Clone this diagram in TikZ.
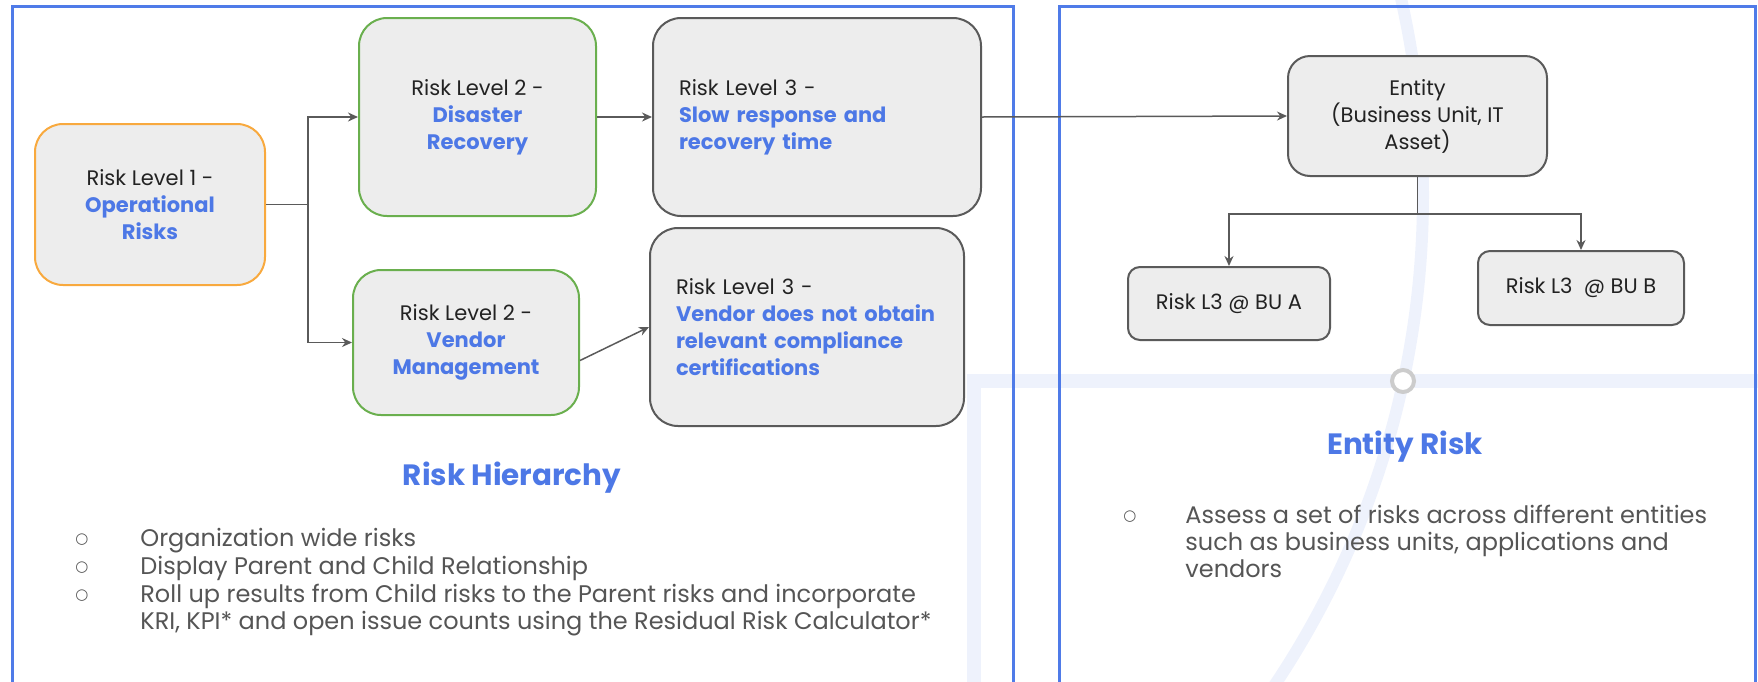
\documentclass[tikz,border=0pt]{standalone}
\usepackage{fontspec}
\setmainfont{Poppins}
\newfontfamily\symfont{DejaVu Sans}
\usetikzlibrary{arrows.meta,calc,positioning}
\definecolor{frameblue}{HTML}{4F7BE8}
\definecolor{riskblue}{HTML}{4D78E6}
\definecolor{lvlone}{HTML}{F8A93E}
\definecolor{lvltwo}{HTML}{6AAF4E}
\definecolor{edgegray}{HTML}{5A5A5A}
\definecolor{boxfill}{HTML}{EDEDED}
\definecolor{txtdark}{HTML}{222222}
\definecolor{bodygray}{HTML}{555555}
\definecolor{haze}{HTML}{EEF2FC}
\definecolor{ringgray}{HTML}{CCCCCC}
\newcommand{\hl}[1]{\textcolor{riskblue}{\bfseries #1}}

\begin{document}
\begin{tikzpicture}[x=.5pt,y=-.5pt,>={Stealth[length=5pt,width=4.5pt]},
 riskbox/.style={draw=edgegray,fill=boxfill,line width=1pt,rounded corners=14pt,inner sep=0pt,align=center,font=\fontsize{10.5}{13.5}\selectfont,text=txtdark},
 topbox/.style={riskbox,draw=lvlone},
 midbox/.style={riskbox,draw=lvltwo},
 leafbox/.style={riskbox,align=left,inner xsep=13pt},
 unitbox/.style={riskbox,rounded corners=6pt},
 link/.style={edgegray,line width=.75pt},
 heading/.style={text=riskblue,font=\fontsize{14.7}{16}\selectfont\bfseries},
 note/.style={text=bodygray,font=\fontsize{12}{14}\selectfont,anchor=base west,inner sep=0pt},
 bullet/.style={text=bodygray,font=\symfont\fontsize{7.5}{8}\selectfont,inner sep=0pt}]
 \clip(0,0)rectangle(1758,681);
 % faint backdrop
 \draw[haze,line width=7pt](973.5,700)--(973.5,381)--(1770,381);
 \draw[haze,line width=6pt](540,195)circle[radius=441.5pt];
 \draw[ringgray,line width=2pt,fill=white](1403,381)circle[radius=5.5pt];
 % panels
 \draw[frameblue,line width=1.5pt](12,700)--(12,6)--(1013,6)--(1013,700);
 \draw[frameblue,line width=1.5pt](1059,700)--(1059,6)--(1755,6)--(1755,700);
 % hierarchy
 \node[topbox,minimum width=115pt,minimum height=80.5pt](l1)at(150,204.5){Risk Level 1 -\\\hl{Operational}\\\hl{Risks}};
 \node[midbox,minimum width=118.5pt,minimum height=99pt](l2a)at(477.5,117){Risk Level 2 -\\\hl{Disaster}\\\hl{Recovery}};
 \node[midbox,minimum width=113pt,minimum height=72.5pt](l2b)at(466,342.5){Risk Level 2 -\\\hl{Vendor}\\\hl{Management}};
 \node[leafbox,text width=138pt,minimum height=99pt](l3a)at(817,117){Risk Level 3 -\\\hl{Slow response and}\\\hl{recovery time}};
 \node[leafbox,text width=131pt,minimum height=99pt](l3b)at(807,327){Risk Level 3 -\\\hl{Vendor does not obtain}\\\hl{relevant compliance}\\\hl{certifications}};
 \coordinate(fork)at(308,204.5);
 \draw[link](l1.east)--(fork);
 \draw[link,->](fork)|-(l2a.west);
 \draw[link,->](fork)|-(l2b.west);
 \draw[link,->](l2a.east)--(l3a.west);
 \draw[link,->]([yshift=-9pt]l2b.east)--(l3b.west);
 % entities
 \node[riskbox,rounded corners=11pt,minimum width=129.5pt,minimum height=60pt](ent)at(1417.5,116){Entity\\(Business Unit, IT\\Asset)};
 \node[unitbox,minimum width=101pt,minimum height=36.5pt](bua)at(1229,303.5){Risk L3 @ BU A};
 \node[unitbox,minimum width=103pt,minimum height=37pt](bub)at(1581,288){Risk L3 \ @ BU B};
 \draw[link,->](l3a.east)--(ent.west);
 \draw[link,->](ent.south)--++(0,37)-|(bua.north);
 \draw[link,->](ent.south)--++(0,37)-|(bub.north);
 % captions
 \node[heading](hier)at(512,478){Risk Hierarchy};
 \node[heading](entr)at(1405,447){Entity Risk};
 \node[bullet](b1)at(82,540){○};\node[note](n1)at(140,546.5){Organization wide risks};
 \node[bullet](b2)at(82,568){○};\node[note](n2)at(140,574.5){Display Parent and Child Relationship};
 \node[bullet](b3)at(82,596){○};\node[note](n3)at(140,602.5){Roll up results from Child risks to the Parent risks and incorporate};
 \node[note](n4)at(140,629.5){KRI, KPI* and open issue counts using the Residual Risk Calculator*};
 \node[bullet](b5)at(1130,517){○};\node[note](n5)at(1185,523.5){Assess a set of risks across different entities};
 \node[note](n6)at(1185,550.5){such as business units, applications and};
 \node[note](n7)at(1185,577.5){vendors};
\end{tikzpicture}
\end{document}
